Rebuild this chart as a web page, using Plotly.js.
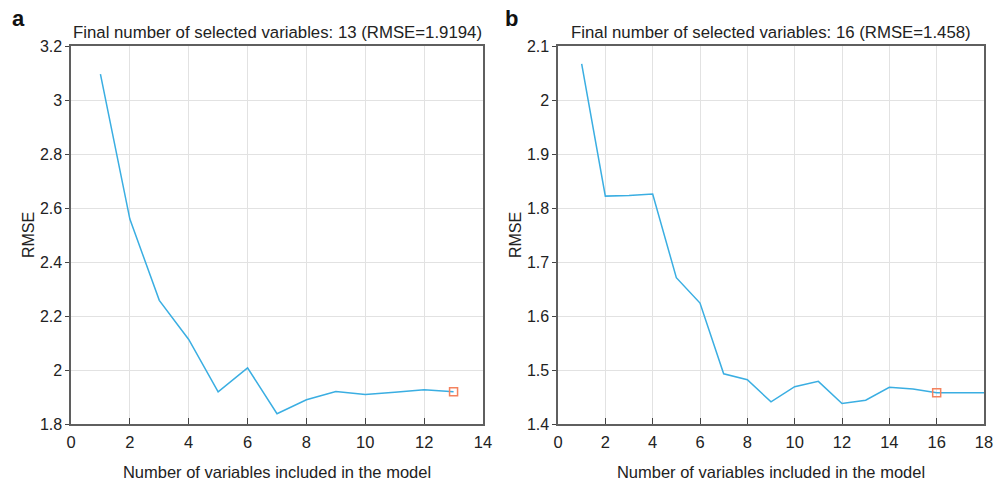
<!DOCTYPE html>
<html>
<head>
<meta charset="utf-8">
<script src="https://cdn.plot.ly/plotly-3.0.1.min.js"></script>
<style>html,body{margin:0;padding:0;background:#fff;}#chart{width:1001px;height:481px;}</style>
</head>
<body>
<div id="chart"></div>
<script>
// Panel a
const aVars = [1,2,3,4,5,6,7,8,9,10,11,12,13];
const aRmse = [3.096,2.559,2.258,2.113,1.919,2.008,1.838,1.890,1.920,1.909,1.918,1.927,1.9194];
const aSelected = [13];
const aSelectedRmse = [1.9194];
const aTitle = 'Final number of selected variables: 13 (RMSE=1.9194)';

// Panel b
const bVars = [1,2,3,4,5,6,7,8,9,10,11,12,13,14,15,16,17,18];
const bRmse = [2.067,1.822,1.823,1.826,1.671,1.624,1.493,1.482,1.441,1.469,1.479,1.438,1.444,1.468,1.465,1.458,1.458,1.458];
const bSelected = [16];
const bSelectedRmse = [1.458];
const bTitle = 'Final number of selected variables: 16 (RMSE=1.458)';

const xTitle = 'Number of variables included in the model';
const yTitle = 'RMSE';

const lineColor = '#3aaee2';
const markColor = '#f4825e';
const regular = '"Liberation Sans", Arial, sans-serif';

const traces = [
  {x: aVars, y: aRmse, type: 'scatter', mode: 'lines', line: {color: lineColor, width: 1.5}, xaxis: 'x', yaxis: 'y'},
  {x: aSelected, y: aSelectedRmse, type: 'scatter', mode: 'markers', marker: {symbol: 'square-open', size: 8, color: markColor, line: {width: 1.5}}, xaxis: 'x', yaxis: 'y'},
  {x: bVars, y: bRmse, type: 'scatter', mode: 'lines', line: {color: lineColor, width: 1.5}, xaxis: 'x2', yaxis: 'y2'},
  {x: bSelected, y: bSelectedRmse, type: 'scatter', mode: 'markers', marker: {symbol: 'square-open', size: 8, color: markColor, line: {width: 1.5}}, xaxis: 'x2', yaxis: 'y2'}
];

function xAxis(domain, range, anchor) {
  return {
    domain: domain, range: range, anchor: anchor, dtick: 2, tick0: 0,
    showgrid: true, gridcolor: '#e2e2e2', gridwidth: 1,
    zeroline: false, showline: true, linecolor: '#5f5f5f', linewidth: 1.6, mirror: true,
    ticks: 'inside', ticklen: 6, tickcolor: '#444', tickwidth: 1,
    ticklabelstandoff: 3,
    tickfont: {family: regular, size: 16.5, color: '#222'},
    title: {text: xTitle, font: {family: regular, size: 16.5, color: '#222'}, standoff: 16}
  };
}
function yAxis(domain, range, dtick, anchor) {
  return {
    domain: domain, range: range, anchor: anchor, dtick: dtick,
    showgrid: true, gridcolor: '#e2e2e2', gridwidth: 1,
    zeroline: false, showline: true, linecolor: '#5f5f5f', linewidth: 1.6, mirror: true,
    ticks: 'outside', ticklen: 4, tickcolor: '#444', tickwidth: 1,
    tickfont: {family: regular, size: 16, color: '#222'},
    title: {text: yTitle, font: {family: regular, size: 16, color: '#222'}, standoff: 1}
  };
}

const yDom = [1 - 424/481, 1 - 46/481];
const layout = {
  width: 1001, height: 481,
  margin: {l: 0, r: 0, t: 0, b: 0},
  paper_bgcolor: '#fff', plot_bgcolor: '#fff',
  showlegend: false,
  xaxis: xAxis([71/1001, 483/1001], [0, 14], 'y'),
  yaxis: yAxis(yDom, [1.8, 3.2], 0.2, 'x'),
  xaxis2: xAxis([558/1001, 984/1001], [0, 18], 'y2'),
  yaxis2: yAxis(yDom, [1.4, 2.1], 0.1, 'x2'),
  annotations: [
    {text: aTitle, xref: 'paper', yref: 'paper', x: 277/1001, y: 1 - 32/481, xanchor: 'center', yanchor: 'middle', showarrow: false, font: {family: regular, size: 16.8, color: '#222'}},
    {text: bTitle, xref: 'paper', yref: 'paper', x: 771/1001, y: 1 - 32/481, xanchor: 'center', yanchor: 'middle', showarrow: false, font: {family: regular, size: 16.8, color: '#222'}},
    {text: '<b>a</b>', xref: 'paper', yref: 'paper', x: 18/1001, y: 1 - 18/481, xanchor: 'center', yanchor: 'middle', showarrow: false, font: {family: regular, size: 22, color: '#111'}},
    {text: '<b>b</b>', xref: 'paper', yref: 'paper', x: 511/1001, y: 1 - 18/481, xanchor: 'center', yanchor: 'middle', showarrow: false, font: {family: regular, size: 22, color: '#111'}}
  ]
};

Plotly.newPlot('chart', traces, layout, {displayModeBar: false, staticPlot: true});
</script>
</body>
</html>
